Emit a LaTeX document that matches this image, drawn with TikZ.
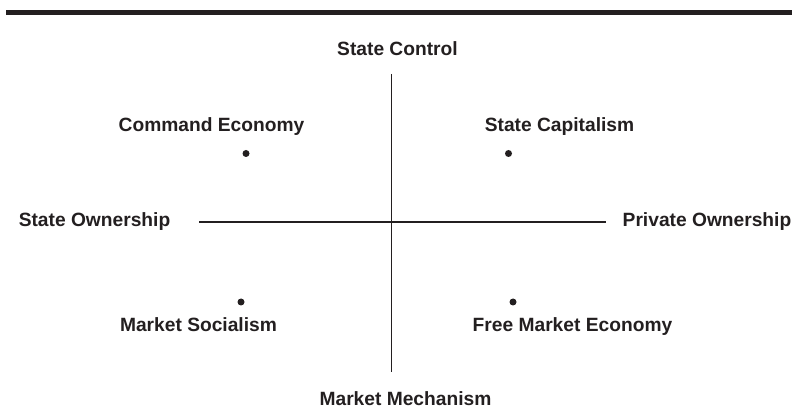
\documentclass[tikz,border=0pt]{standalone}
\usepackage{fontspec}
\setmainfont{Liberation Sans}
\definecolor{ink}{HTML}{231F20}
\tikzset{
  lbl/.style={anchor=base, inner sep=0pt, text=ink, font=\fontsize{19.2}{22}\selectfont\bfseries},
  pt/.style={circle, fill=ink, inner sep=0pt, minimum size=7pt},
  axis/.style={draw=ink, line width=1.6pt}
}
\begin{document}
\begin{tikzpicture}[x=1pt,y=-1pt]
\useasboundingbox (0,0) rectangle (792,411);
% top rule
\coordinate (ruleL) at (6,12.3);
\coordinate (ruleR) at (792,12.3);
\draw[draw=ink, line width=4.5pt] (ruleL) -- (ruleR);
% axes
\coordinate (vt) at (391.5,74);
\coordinate (vb) at (391.5,372);
\coordinate (hl) at (199,222.3);
\coordinate (hr) at (606,222.3);
\draw[axis] (vt) -- (vb);
\draw[axis] (hl) -- (hr);
% axis labels
\node[lbl] (sc) at (397.5,56) {State Control};
\node[lbl] (mm) at (405.5,405) {Market Mechanism};
\node[lbl] (so) at (94.5,227) {State Ownership};
\node[lbl] (po) at (707,227) {Private Ownership};
% quadrant labels
\node[lbl] (ce) at (211.5,132) {Command Economy};
\node[lbl] (scap) at (559.5,132) {State Capitalism};
\node[lbl] (ms) at (198.5,332) {Market Socialism};
\node[lbl] (fme) at (572.5,332) {Free Market Economy};
% dots
\node[pt] (d1) at (246,153.5) {};
\node[pt] (d2) at (508.5,153.5) {};
\node[pt] (d3) at (241,302) {};
\node[pt] (d4) at (513,302) {};
\end{tikzpicture}
\end{document}
